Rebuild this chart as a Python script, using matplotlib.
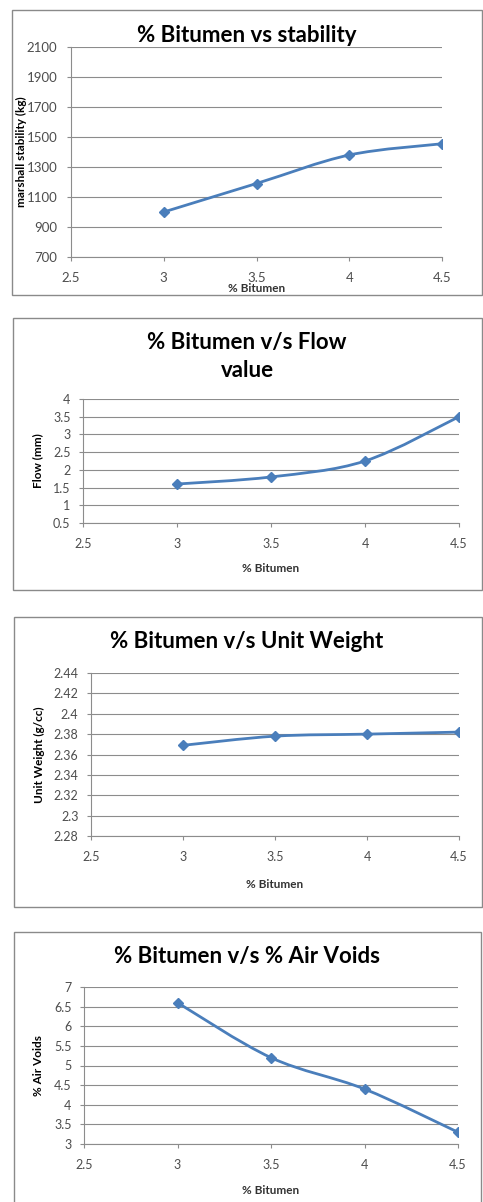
import matplotlib
matplotlib.use("Agg")
from matplotlib import pyplot as plt
from matplotlib.path import Path
from matplotlib.patches import PathPatch, Rectangle

plt.rcParams['font.family'] = ['Lato', 'DejaVu Sans']

bitumen = [3, 3.5, 4, 4.5]
stability = [1000, 1190, 1380, 1455]
flow = [1.6, 1.8, 2.25, 3.5]
unit_weight = [2.369, 2.378, 2.380, 2.382]
air_voids = [6.6, 5.2, 4.4, 3.3]

x_ticks = [2.5, 3, 3.5, 4, 4.5]
stab_ticks = [700, 900, 1100, 1300, 1500, 1700, 1900, 2100]
flow_ticks = [0.5, 1, 1.5, 2, 2.5, 3, 3.5, 4]
uw_ticks = [2.28, 2.3, 2.32, 2.34, 2.36, 2.38, 2.4, 2.42, 2.44]
av_ticks = [3, 3.5, 4, 4.5, 5, 5.5, 6, 6.5, 7]

W, H = 483, 1202
LINE = "#4a7ebb"
GRID = "#8c8c8c"
TICK = "#4d4d4d"

fig = plt.figure(figsize=(W / 100, H / 100), dpi=100)


def px_axes(x0, y0, x1, y1):
    return fig.add_axes([x0 / W, 1 - y1 / H, (x1 - x0) / W, (y1 - y0) / H])


def box(x0, y0, x1, y1):
    fig.patches.append(Rectangle((x0 / W, 1 - y1 / H), (x1 - x0) / W, (y1 - y0) / H,
                                 transform=fig.transFigure, fill=False,
                                 edgecolor="#8a8a8a", linewidth=1.0))


def smooth(ax, xs, ys):
    # excel-like smoothed line: bezier segments through the points
    pts = list(zip(xs, ys))
    verts = [pts[0]]
    codes = [Path.MOVETO]
    n = len(pts)
    for i in range(n - 1):
        p0 = pts[max(i - 1, 0)]
        p1 = pts[i]
        p2 = pts[i + 1]
        p3 = pts[min(i + 2, n - 1)]
        c1 = (p1[0] + (p2[0] - p0[0]) / 6, p1[1] + (p2[1] - p0[1]) / 6)
        c2 = (p2[0] - (p3[0] - p1[0]) / 6, p2[1] - (p3[1] - p1[1]) / 6)
        verts += [c1, c2, p2]
        codes += [Path.CURVE4] * 3
    ax.add_patch(PathPatch(Path(verts, codes), fill=False, edgecolor=LINE,
                           linewidth=2.0, zorder=3))
    ax.plot(xs, ys, linestyle="none", marker="D", markersize=5.5,
            color=LINE, zorder=4)


def panel(rect, ys, yticks, ylabels, ylabel, ylab_x, xlab_y, fsz, ypad=6):
    ax = px_axes(*rect)
    smooth(ax, bitumen, ys)
    ax.set_xlim(2.5, 4.5)
    ax.set_ylim(yticks[0], yticks[-1])
    ax.set_xticks(x_ticks)
    ax.set_xticklabels([str(v) for v in x_ticks])
    ax.set_yticks(yticks)
    ax.set_yticklabels(ylabels)
    ax.grid(True, axis="y", color=GRID, linewidth=0.8)
    ax.set_axisbelow(True)
    for s in ["top", "right"]:
        ax.spines[s].set_visible(False)
    for s in ["left", "bottom"]:
        ax.spines[s].set_color(GRID)
        ax.spines[s].set_linewidth(0.8)
    ax.tick_params(axis="both", colors=GRID, labelcolor=TICK, labelsize=fsz,
                   length=3, width=0.8, direction="out")
    ax.tick_params(axis="x", pad=8)
    ax.tick_params(axis="y", pad=ypad)
    ax.set_ylabel(ylabel, fontsize=8.5, fontweight="bold", va="center")
    ax.set_xlabel("% Bitumen", fontsize=8.5, fontweight="bold", va="center",
                  color="#333333")
    ax.yaxis.set_label_coords(ylab_x / W, 1 - (rect[1] + rect[3]) / 2 / H,
                              transform=fig.transFigure)
    ax.xaxis.set_label_coords((rect[0] + rect[2]) / 2 / W, 1 - xlab_y / H,
                              transform=fig.transFigure)
    return ax


ax1 = panel((71, 47, 442, 257), stability, stab_ticks,
            [str(v) for v in stab_ticks], "marshall stability (kg)", 21, 289, 9.5,
            ypad=7)
ax2 = panel((83, 399, 459, 523), flow, flow_ticks,
            ["0.5", "1", "1.5", "2", "2.5", "3", "3.5", "4"], "Flow (mm)", 38, 568, 9)
ax3 = panel((91, 673, 459, 836), unit_weight, uw_ticks,
            ["2.28", "2.3", "2.32", "2.34", "2.36", "2.38", "2.4", "2.42", "2.44"],
            "Unit Weight (g/cc)", 39, 884, 9)
ax4 = panel((84, 987, 458, 1144), air_voids, av_ticks,
            ["3", "3.5", "4", "4.5", "5", "5.5", "6", "6.5", "7"], "% Air Voids",
            39, 1191, 9)

box(12, 10, 482, 295)
box(13, 318, 482, 590)
box(14, 617, 482, 907)
box(14, 932, 481, 1210)

fig.text(247 / W, 1 - 36 / H, "% Bitumen vs stability", ha="center", va="center",
         fontsize=16, fontweight="bold")
fig.text(247 / W, 1 - 343 / H, "% Bitumen v/s Flow", ha="center", va="center",
         fontsize=16, fontweight="bold")
fig.text(247 / W, 1 - 371 / H, "value", ha="center", va="center",
         fontsize=16, fontweight="bold")
fig.text(247 / W, 1 - 642 / H, "% Bitumen v/s Unit Weight", ha="center", va="center",
         fontsize=16, fontweight="bold")
fig.text(247 / W, 1 - 957 / H, "% Bitumen v/s % Air Voids", ha="center", va="center",
         fontsize=16, fontweight="bold")

fig.savefig("out.png", dpi=100, facecolor="white")
